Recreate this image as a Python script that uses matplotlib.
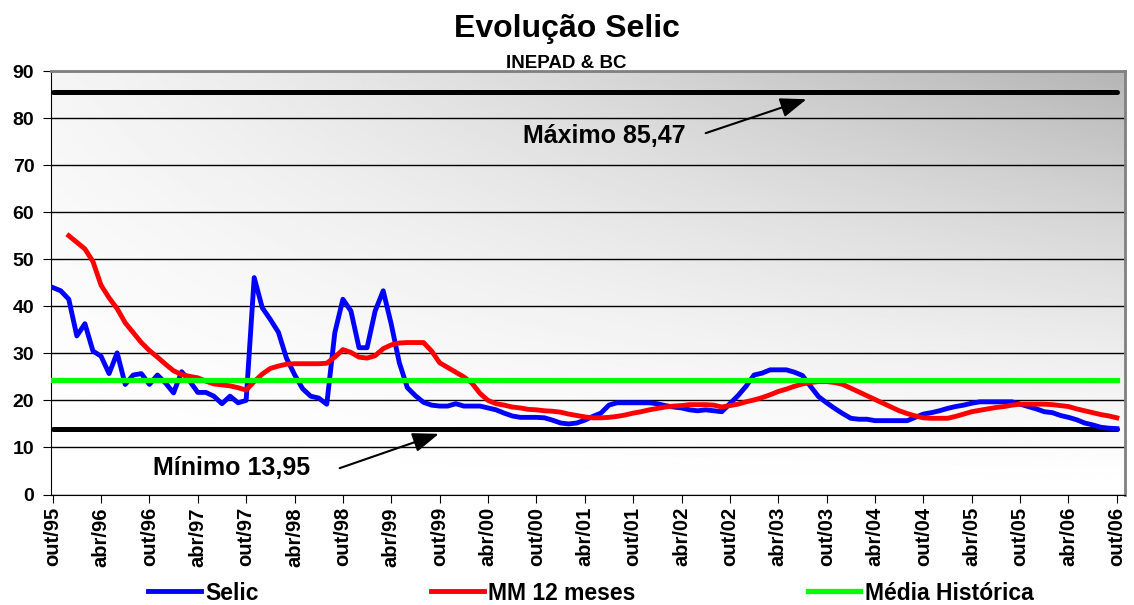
import matplotlib
matplotlib.use("Agg")
import matplotlib.pyplot as plt
import numpy as np

plt.rcParams["font.family"] = ["Liberation Sans", "DejaVu Sans"]
plt.rcParams["font.weight"] = "bold"

# monthly Selic (% a.a.), out/95 .. out/06
selic = [
    44.0, 43.3, 41.5, 33.7, 36.3, 30.5, 29.4, 25.7, 30.1, 23.4,
    25.4, 25.7, 23.4, 25.4, 23.7, 21.6, 26.1, 24.1, 21.7, 21.7,
    20.9, 19.3, 20.9, 19.5, 20.0, 46.1, 39.7, 37.2, 34.5, 29.0,
    25.5, 22.5, 20.9, 20.5, 19.2, 34.4, 41.5, 39.0, 31.2, 31.2,
    39.0, 43.3, 36.2, 28.0, 22.7, 21.0, 19.6, 19.0, 18.8, 18.8,
    19.3, 18.8, 18.8, 18.8, 18.4, 18.0, 17.3, 16.7, 16.4, 16.4,
    16.4, 16.3, 15.8, 15.2, 15.0, 15.2, 15.8, 16.6, 17.3, 19.0,
    19.5, 19.5, 19.5, 19.5, 19.5, 19.3, 18.9, 18.6, 18.4, 18.0,
    17.8, 18.0, 17.8, 17.6, 19.3, 21.0, 23.0, 25.4, 25.8, 26.5,
    26.5, 26.5, 26.0, 25.3, 23.0, 20.8, 19.5, 18.3, 17.2, 16.2,
    16.0, 16.0, 15.7, 15.7, 15.7, 15.7, 15.7, 16.4, 17.1, 17.4,
    17.8, 18.3, 18.7, 19.0, 19.4, 19.7, 19.7, 19.7, 19.7, 19.7,
    19.2, 18.7, 18.2, 17.6, 17.4, 16.8, 16.4, 15.9, 15.2, 14.8,
    14.3, 14.1, 14.0,
]

# 12-month moving average, starts at dez/95
mm12_start = 2
mm12 = [
    55.0, 53.6, 52.2, 49.5, 44.5, 41.8, 39.5, 36.5, 34.4, 32.3,
    30.6, 29.2, 27.7, 26.3, 25.5, 25.1, 24.8, 24.1, 23.5, 23.3,
    23.1, 22.7, 22.2, 24.0, 25.6, 26.8, 27.3, 27.7, 27.8, 27.8,
    27.8, 27.8, 27.9, 29.2, 30.8, 30.2, 29.2, 29.0, 29.5, 31.0,
    31.8, 32.2, 32.3, 32.3, 32.3, 30.5, 28.0, 27.0, 26.0, 25.0,
    23.7, 21.5, 20.0, 19.3, 19.0, 18.6, 18.4, 18.1, 18.0, 17.8,
    17.7, 17.5, 17.1, 16.8, 16.5, 16.3, 16.3, 16.4, 16.6, 16.9,
    17.3, 17.6, 18.0, 18.3, 18.6, 18.8, 18.9, 19.1, 19.1, 19.1,
    19.0, 18.6, 18.9, 19.2, 19.7, 20.1, 20.6, 21.2, 21.9, 22.4,
    23.0, 23.5, 23.8, 24.0, 24.0, 23.8, 23.4, 22.6, 21.8, 21.0,
    20.2, 19.4, 18.6, 17.8, 17.2, 16.7, 16.3, 16.2, 16.2, 16.2,
    16.6, 17.1, 17.6, 17.9, 18.2, 18.5, 18.7, 19.0, 19.2, 19.2,
    19.2, 19.2, 19.1, 18.9, 18.7, 18.2, 17.8, 17.4, 17.0, 16.7,
    16.3,
]

media_historica = 24.4
maximo = 85.47
minimo = 13.95

tick_labels = [
    "out/95", "abr/96", "out/96", "abr/97", "out/97", "abr/98", "out/98",
    "abr/99", "out/99", "abr/00", "out/00", "abr/01", "out/01", "abr/02",
    "out/02", "abr/03", "out/03", "abr/04", "out/04", "abr/05", "out/05",
    "abr/06", "out/06",
]

months = np.arange(len(selic))
mm_months = np.arange(mm12_start, mm12_start + len(mm12))

fig = plt.figure(figsize=(11.34, 6.05), dpi=100)
ax = fig.add_axes([0.045, 0.1826, 0.947, 0.7])

# gradient background: white bottom-left, grey top-right
gx, gy = np.meshgrid(np.linspace(0, 1, 300), np.linspace(0, 1, 200))
dark = gy ** 1.3 * (0.04 + 0.25 * gx ** 1.1)
ax.imshow(1 - dark, cmap="gray", vmin=0, vmax=1, origin="lower",
          extent=[0, 1, 0, 1], transform=ax.transAxes, aspect="auto",
          zorder=0, interpolation="bilinear")

ax.set_axisbelow(True)
ax.yaxis.grid(True, color="black", lw=1)

lw = 3.5
ax.plot(months, [maximo] * len(months), color="black", lw=3.6,
        solid_capstyle="round", zorder=3)
ax.plot(months, [minimo] * len(months), color="black", lw=3.6,
        solid_capstyle="round", zorder=3)
l_selic, = ax.plot(months, selic, color="#0000ff", lw=lw, zorder=4,
                   label="Selic")
l_mm, = ax.plot(mm_months, mm12, color="#ff0000", lw=lw, zorder=5,
                label="MM 12 meses")
l_med, = ax.plot(months, [media_historica] * len(months), color="#00ff00",
                 lw=3.8, zorder=6, label="Média Histórica")

ax.set_xlim(-0.2, 133)
ax.set_ylim(0, 90)
ax.set_yticks(range(0, 91, 10))
ax.set_xticks(range(0, 133, 6))
ax.set_xticklabels(tick_labels, rotation=90, fontsize=14.5, fontweight="bold")
ax.tick_params(axis="y", labelsize=14, length=6, pad=6, direction="out")
ax.tick_params(axis="x", length=6, pad=3, direction="out")
for lab in ax.get_yticklabels():
    lab.set_fontweight("bold")

ax.spines["left"].set_color("black")
ax.spines["bottom"].set_color("black")
ax.spines["top"].set_color("#808080")
ax.spines["right"].set_color("#808080")
ax.spines["top"].set_linewidth(2)
ax.spines["right"].set_linewidth(2)

arrow = dict(arrowstyle="-|>,head_length=0.8,head_width=0.3",
             color="black", lw=1.5, mutation_scale=20, shrinkA=0, shrinkB=0)
ax.annotate("", xy=(93.5, 84.0), xytext=(81.0, 76.8), arrowprops=arrow,
            zorder=7)
ax.annotate("", xy=(47.9, 12.9), xytext=(35.6, 5.6), arrowprops=arrow,
            zorder=7)
ax.text(78.5, 76.2, "Máximo 85,47", fontsize=18, fontweight="bold",
        ha="right", va="center", zorder=7)
ax.text(31.9, 5.6, "Mínimo 13,95", fontsize=18, fontweight="bold",
        ha="right", va="center", zorder=7)

fig.text(0.5, 1 - 37 / 605, "Evolução Selic", fontsize=23,
         fontweight="bold", ha="center", va="baseline")
fig.text(0.499, 1 - 68 / 605, "INEPAD & BC", fontsize=13.5,
         fontweight="bold", ha="center", va="baseline")

fig.legend(handles=[l_selic, l_mm, l_med], loc="center",
           bbox_to_anchor=(591 / 1134, 1 - 593 / 605), ncol=3,
           frameon=False, prop={"size": 16.5, "weight": "bold"},
           handlelength=2.3, handletextpad=0.2, columnspacing=7.5,
           borderpad=0)

fig.savefig("out.png", dpi=100)
